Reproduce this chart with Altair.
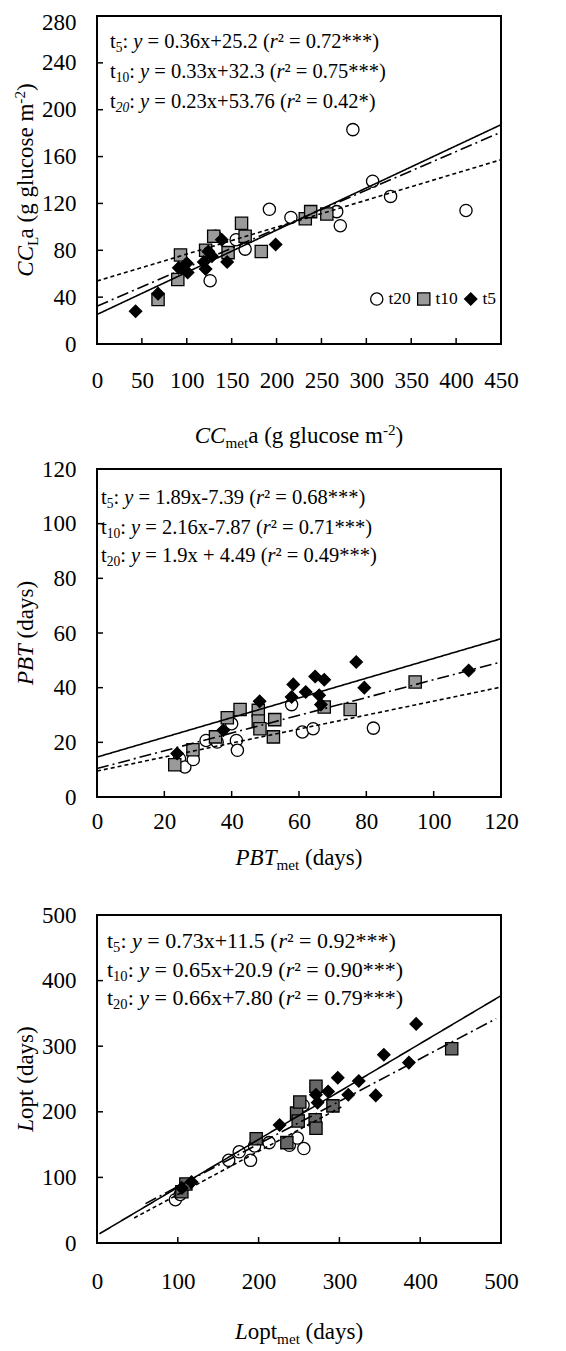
import altair as alt
import pandas as pd

FONT = "Liberation Serif"
SERIES = ["t20", "t10", "t5"]

# ---------------- Panel 1 : CC ----------------
cc_t20_x = [126, 132, 155, 165, 192, 216, 267, 271, 285, 307, 327, 411]
cc_t20_y = [54, 92, 89, 81, 115, 108, 113, 101, 183, 139, 126, 114]
cc_t10_x = [68, 90, 93, 121, 130, 146, 161, 165, 183, 232, 238, 256]
cc_t10_y = [38, 55, 76, 80, 92, 78, 103, 92, 79, 107, 113, 111]
cc_t5_x = [43, 68, 91, 100, 101, 119, 121, 124, 128, 139, 145, 199]
cc_t5_y = [28, 43, 65, 69, 61, 70, 64, 79, 75, 89, 70, 85]
cc_line_series = ["t5", "t10", "t20"]
cc_line_x0 = [0, 0, 0]
cc_line_x1 = [450, 450, 450]
cc_line_y0 = [25.2, 32.3, 53.76]
cc_line_y1 = [187.2, 180.8, 157.3]
cc_xticks = [0, 50, 100, 150, 200, 250, 300, 350, 400, 450]
cc_yticks = [0, 40, 80, 120, 160, 200, 240, 280]
cc_eq = [
    [("t", "n"), ("5", "sub"), (": ", "n"), ("y", "i"), (" = 0.36x+25.2 (", "n"), ("r", "i"), ("² = 0.72***)", "n")],
    [("t", "n"), ("10", "sub"), (": ", "n"), ("y", "i"), (" = 0.33x+32.3 (", "n"), ("r", "i"), ("² = 0.75***)", "n")],
    [("t", "n"), ("20", "subi"), (": ", "n"), ("y", "i"), (" = 0.23x+53.76 (", "n"), ("r", "i"), ("² = 0.42*)", "n")],
]
cc_xtitle = [("CC", "i"), ("met", "sub"), ("a (g glucose m", "n"), ("-2", "sup"), (")", "n")]
cc_ytitle = [("CC", "i"), ("L", "sub"), ("a (g glucose m", "n"), ("-2", "sup"), (")", "n")]

# ---------------- Panel 2 : PBT ----------------
pbt_t20_x = [24.5, 26.1, 28.6, 32.4, 35.7, 40, 41.4, 41.7, 57.8, 61, 64.2, 82.1]
pbt_t20_y = [14, 11, 13.7, 20.7, 20.1, 26.8, 20.7, 17.1, 33.8, 23.8, 25, 25.2]
pbt_t10_x = [23.1, 28.5, 35.2, 38.7, 42.5, 47.9, 47.9, 48.4, 52.4, 52.8, 67.5, 75.2, 94.5]
pbt_t10_y = [11.8, 17.3, 22, 29, 32, 31.7, 27.8, 25, 22, 28.3, 32.9, 32, 42.1]
pbt_t5_x = [23.8, 37.5, 48.3, 57.8, 58.3, 62, 64.8, 66, 66.5, 67.5, 77, 79.4, 110.4]
pbt_t5_y = [15.9, 24.4, 35, 36.6, 41.2, 38.4, 44.1, 37.2, 33.8, 42.9, 49.4, 40, 46.3]
pbt_line_series = ["t5", "t10", "t20"]
pbt_line_x0 = [0, 0, 0]
pbt_line_x1 = [120, 120, 120]
pbt_line_y0 = [14.6, 10.4, 9.5]
pbt_line_y1 = [57.9, 49.4, 40.2]
pbt_xticks = [0, 20, 40, 60, 80, 100, 120]
pbt_yticks = [0, 20, 40, 60, 80, 100, 120]
pbt_eq = [
    [("t", "n"), ("5", "sub"), (": ", "n"), ("y", "i"), (" = 1.89x-7.39 (", "n"), ("r", "i"), ("² = 0.68***)", "n")],
    [("t", "n"), ("10", "sub"), (": ", "n"), ("y", "i"), (" = 2.16x-7.87 (", "n"), ("r", "i"), ("² = 0.71***)", "n")],
    [("t", "n"), ("20", "sub"), (": ", "n"), ("y", "i"), (" = 1.9x + 4.49 (", "n"), ("r", "i"), ("² = 0.49***)", "n")],
]
pbt_xtitle = [("PBT", "i"), ("met", "sub"), (" (days)", "n")]
pbt_ytitle = [("PBT", "i"), (" (days)", "n")]

# ---------------- Panel 3 : Lopt ----------------
lopt_t20_x = [97, 103, 163, 176, 190, 195, 213, 238, 248, 256, 255]
lopt_t20_y = [66, 74, 126, 139, 126, 148, 153, 149, 160, 144, 210]
lopt_t10_x = [105, 110, 197, 235, 247, 249, 251, 271, 270, 271, 292, 439]
lopt_t10_y = [78, 90, 159, 153, 198, 186, 215, 239, 188, 175, 209, 296]
lopt_t5_x = [105, 117, 226, 271, 273, 286, 298, 311, 324, 345, 355, 386, 395]
lopt_t5_y = [84, 93, 180, 226, 214, 231, 252, 226, 247, 225, 287, 275, 334]
lopt_line_series = ["t5", "t10", "t20"]
lopt_line_x0 = [3, 60, 46]
lopt_line_x1 = [500, 494, 305]
lopt_line_y0 = [14, 60, 38.2]
lopt_line_y1 = [377, 342, 209]
lopt_xticks = [0, 100, 200, 300, 400, 500]
lopt_yticks = [0, 100, 200, 300, 400, 500]
lopt_eq = [
    [("t", "n"), ("5", "sub"), (": ", "n"), ("y", "i"), (" = 0.73x+11.5 (", "n"), ("r", "i"), ("² = 0.92***)", "n")],
    [("t", "n"), ("10", "sub"), (": ", "n"), ("y", "i"), (" = 0.65x+20.9 (", "n"), ("r", "i"), ("² = 0.90***)", "n")],
    [("t", "n"), ("20", "sub"), (": ", "n"), ("y", "i"), (" = 0.66x+7.80 (", "n"), ("r", "i"), ("² = 0.79***)", "n")],
]
lopt_xtitle = [("L", "i"), ("opt", "n"), ("met", "sub"), (" (days)", "n")]
lopt_ytitle = [("L", "i"), ("opt (days)", "n")]

# ---------------- text metrics (Times / Liberation Serif) ----------------
ROMAN = {' ': 250, '(': 333, ')': 333, '*': 500, '+': 564, '-': 333, '.': 250, ':': 278,
         '=': 564, '²': 300, 'a': 444, 'c': 444, 'd': 500, 'e': 444, 'g': 500, 'l': 278,
         'm': 778, 'o': 500, 'p': 500, 'r': 333, 's': 389, 't': 278, 'u': 500, 'x': 500, 'y': 500}
ITALIC = {' ': 250, 'C': 667, 'L': 556, 'P': 611, 'B': 611, 'T': 556, 'y': 444, 'r': 389}


def text_width(s, italic):
    table = ITALIC if italic else ROMAN
    return sum(table.get(c, 500) for c in s) / 1000.0


def build_rows(parts, fs, x0, y0, angle=0, anchor="start"):
    items = []
    total = 0.0
    for text, kind in parts:
        italic = kind in ("i", "subi")
        small = kind in ("sub", "sup", "subi")
        size = fs * 0.66 if small else fs
        shift = 0.2 * fs if kind in ("sub", "subi") else (-0.36 * fs if kind == "sup" else 0.0)
        lead = len(text) - len(text.lstrip(" "))
        lead_w = text_width(" " * lead, italic) * size
        w = text_width(text, italic) * size
        items.append((text.strip(" "), italic, size, w, shift, lead_w))
        total += w
    pos = -total / 2 if anchor == "middle" else 0.0
    rows = []
    for text, italic, size, w, shift, lead_w in items:
        p = pos + lead_w
        if angle == 0:
            px, py = x0 + p, y0 + shift
        else:
            px, py = x0 + shift, y0 - p
        if text:
            rows.append(dict(t=text, px=px, py=py, fs=size, it=italic, ang=angle))
        pos += w
    return rows


W, H = 404, 328


def panel(t20x, t20y, t10x, t10y, t5x, t5y, ls, lx0, lx1, ly0, ly1, xticks, yticks,
          eq, eq_fs, eq_x, eq_y, xtitle, xt_off, ytitle, xlabpad, t10fill, legend, top_offset):
    xmax, ymax = xticks[-1], yticks[-1]
    pts = pd.DataFrame({
        "x": t20x + t10x + t5x,
        "y": t20y + t10y + t5y,
        "s": ["t20"] * len(t20x) + ["t10"] * len(t10x) + ["t5"] * len(t5x),
    })
    lines = pd.DataFrame({
        "x": lx0 + lx1,
        "y": ly0 + ly1,
        "s": ls + ls,
    })
    xs = alt.Scale(domain=[0, xmax], nice=False, zero=False)
    ys = alt.Scale(domain=[0, ymax], nice=False, zero=False)
    if top_offset:
        ylab_off = {"condition": {"test": f"datum.value == {ymax}", "value": top_offset}, "value": 0}
    else:
        ylab_off = 0
    xaxis = alt.Axis(values=xticks, title=None, labelPadding=xlabpad, grid=False, domain=False,
                     ticks=False, tickSize=0, labelFont=FONT, labelFontSize=23, labelColor="black",
                     labelFlush=False)
    yaxis = alt.Axis(values=yticks, title=None, labelPadding=21, grid=False, domain=False,
                     ticks=False, tickSize=0, labelFont=FONT, labelFontSize=23, labelColor="black",
                     labelFlush=False, labelOffset=ylab_off)
    if legend:
        leg = alt.Legend(title=None, orient="none", legendX=271, legendY=274, direction="horizontal",
                         labelFont=FONT, labelFontSize=17.5, labelColor="black",
                         symbolStrokeWidth=1.3, symbolSize=150, columnPadding=4, labelOffset=3)
    else:
        leg = None
    X = lambda f: alt.X(f, scale=xs, axis=xaxis)
    Y = lambda f: alt.Y(f, scale=ys, axis=yaxis)

    point_layer = alt.Chart(pts).mark_point(filled=True, strokeWidth=1.3,
                                            opacity=1, size=150).encode(
        x=X("x:Q"),
        y=Y("y:Q"),
        shape=alt.Shape("s:N", scale=alt.Scale(domain=SERIES, range=["circle", "square", "diamond"]),
                        legend=leg),
        fill=alt.Fill("s:N", scale=alt.Scale(domain=SERIES, range=["white", t10fill, "black"]),
                      legend=leg),
        stroke=alt.Stroke("s:N", scale=alt.Scale(domain=SERIES, range=["black", "black", "black"]),
                          legend=leg),
    )
    line_layer = alt.Chart(lines).mark_line(color="black", strokeWidth=1.6).encode(
        x=X("x:Q"),
        y=Y("y:Q"),
        detail="s:N",
        strokeDash=alt.StrokeDash("s:N", scale=alt.Scale(domain=["t5", "t10", "t20"],
                                                         range=[[1, 0], [12, 4, 2, 4], [4, 3]]),
                                  legend=None),
    )
    ytick_layer = alt.Chart(pd.DataFrame({"y": yticks[1:-1]})).mark_rule(color="black", strokeWidth=1.5).encode(
        y=Y("y:Q"), x=alt.value(0), x2=alt.value(6))
    xtick_layer = alt.Chart(pd.DataFrame({"x": xticks[1:-1]})).mark_rule(color="black", strokeWidth=1.5).encode(
        x=X("x:Q"), y=alt.value(H), y2=alt.value(H - 6))

    rows = []
    for i, parts in enumerate(eq):
        rows += build_rows(parts, eq_fs, eq_x, eq_y[i])
    rows += build_rows(xtitle, 23, W / 2, H + xt_off, anchor="middle")
    rows += build_rows(ytitle, 23, -64, H / 2, angle=270, anchor="middle")
    tdf = pd.DataFrame(rows)
    # convert pixel offsets inside the panel into the panel's data units
    tdf["x"] = tdf["px"] / W * xmax
    tdf["y"] = (1 - tdf["py"] / H) * ymax
    tdf = tdf.drop(columns=["px", "py"])

    def tl(df, italic):
        return alt.Chart(df).mark_text(align="left", baseline="alphabetic", font=FONT,
                                       fontStyle="italic" if italic else "normal", color="black").encode(
            x=X("x:Q"),
            y=Y("y:Q"),
            text="t:N",
            size=alt.Size("fs:Q", scale=None, legend=None),
            angle=alt.Angle("ang:Q", scale=None, legend=None),
        )

    text_n = tl(tdf[~tdf["it"]].drop(columns="it"), False)
    text_i = tl(tdf[tdf["it"]].drop(columns="it"), True)
    return alt.layer(point_layer, line_layer, ytick_layer, xtick_layer, text_n, text_i).properties(
        width=W, height=H)


p1 = panel(cc_t20_x, cc_t20_y, cc_t10_x, cc_t10_y, cc_t5_x, cc_t5_y,
           cc_line_series, cc_line_x0, cc_line_x1, cc_line_y0, cc_line_y1, cc_xticks, cc_yticks,
           cc_eq, 20.5, 13, [32, 62, 92], cc_xtitle, 99, cc_ytitle, 25, "#9a9a9a", True, 6)
p2 = panel(pbt_t20_x, pbt_t20_y, pbt_t10_x, pbt_t10_y, pbt_t5_x, pbt_t5_y,
           pbt_line_series, pbt_line_x0, pbt_line_x1, pbt_line_y0, pbt_line_y1, pbt_xticks, pbt_yticks,
           pbt_eq, 20.5, 4, [35, 65, 93], pbt_xtitle, 68, pbt_ytitle, 13, "#9a9a9a", False, 0)
p3 = panel(lopt_t20_x, lopt_t20_y, lopt_t10_x, lopt_t10_y, lopt_t5_x, lopt_t5_y,
           lopt_line_series, lopt_line_x0, lopt_line_x1, lopt_line_y0, lopt_line_y1, lopt_xticks, lopt_yticks,
           lopt_eq, 22, 10, [33, 62, 90], lopt_xtitle, 96, lopt_ytitle, 27, "#666666", False, 0)

inner = alt.vconcat(p2, p3, spacing=29).resolve_scale(fill="independent", shape="independent",
                                                      stroke="independent", strokeDash="independent")
chart = alt.vconcat(p1, inner, spacing=5).resolve_scale(
    fill="independent", shape="independent", stroke="independent", strokeDash="independent"
).configure_view(stroke="black", strokeWidth=2).properties(
    padding={"left": 3, "top": 2, "right": 5, "bottom": 2}, background="white")

chart.save("out.html", embed_options={"renderer": "svg", "actions": False})
